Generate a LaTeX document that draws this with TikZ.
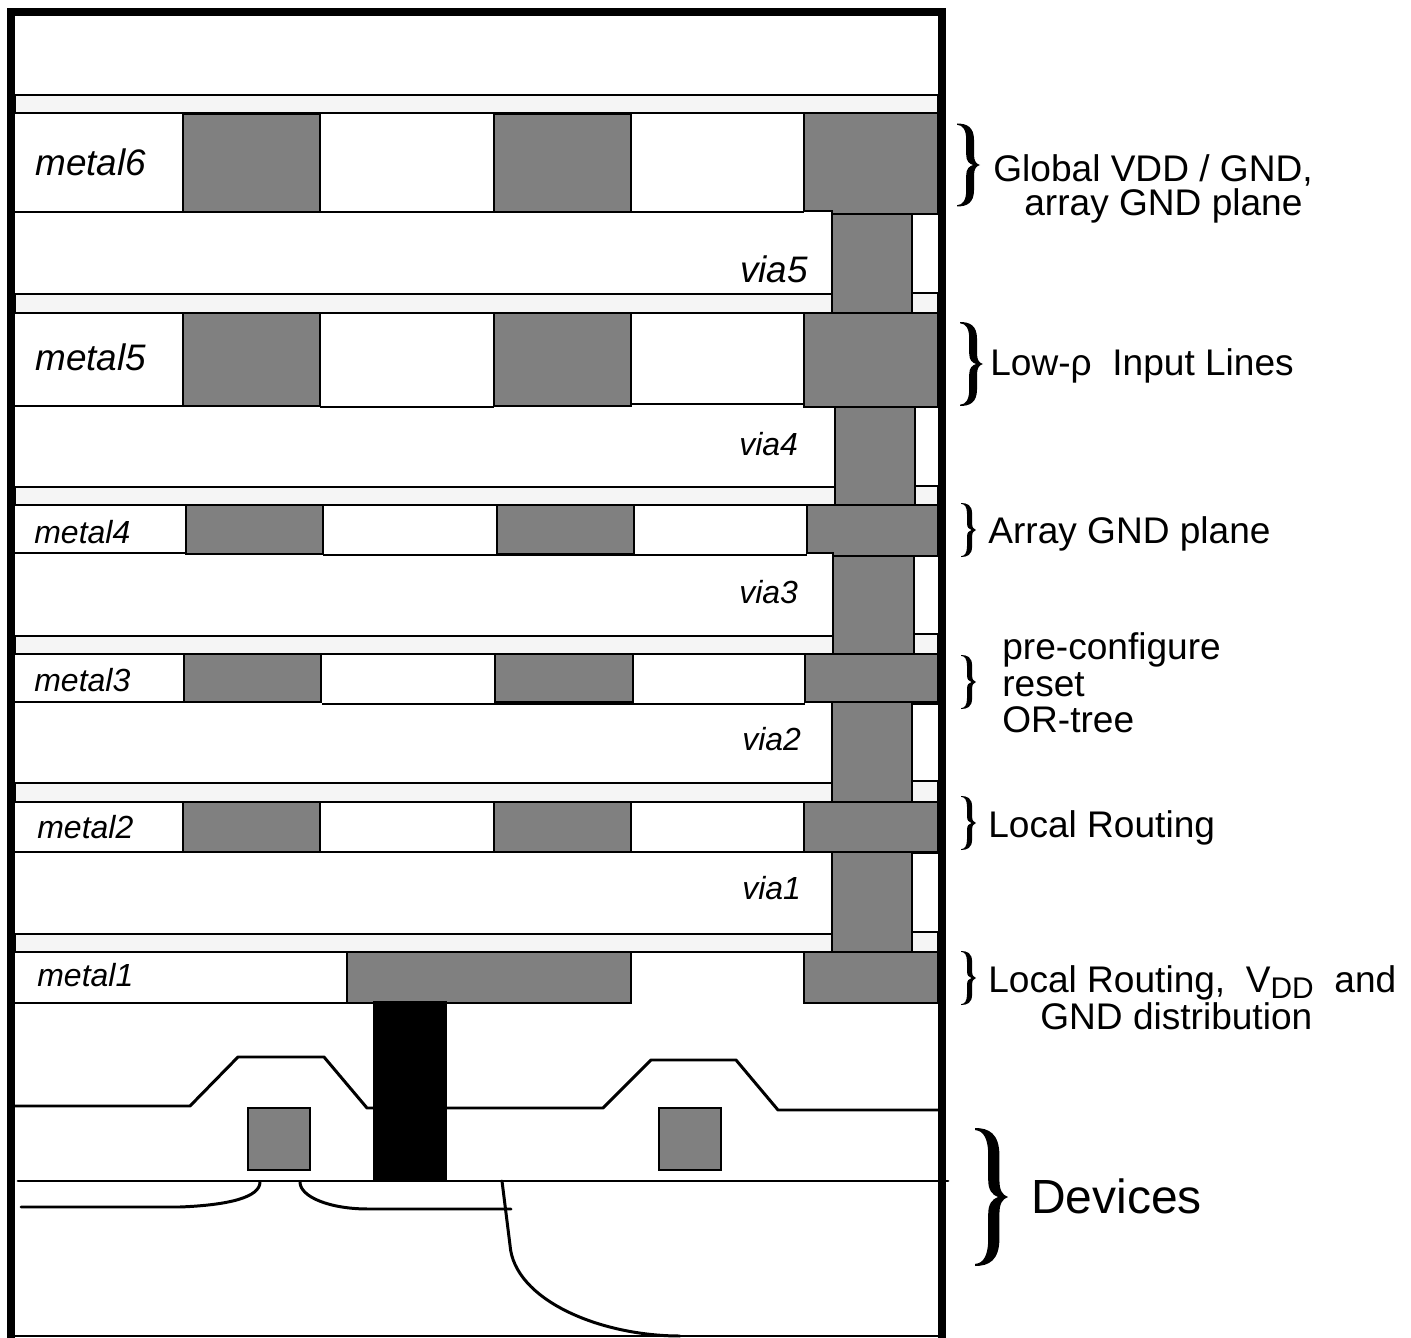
\documentclass[tikz,border=0pt]{standalone}
\usepackage{fontspec}
\setmainfont{Liberation Sans}
\definecolor{metalGray}{RGB}{128, 128, 128}
\definecolor{bandGray}{RGB}{245, 245, 245}
\tikzset{
  wire/.style={line width=1.7pt, line cap=round, line join=round},
  metalbar/.style={draw, line width=1.1pt, fill=metalGray},
  capband/.style={draw, line width=1.1pt, fill=bandGray},
  cellline/.style={line width=1.1pt},
  bigmetal/.style={font=\fontsize{21}{21}\selectfont\itshape, anchor=base west, inner sep=0pt},
  smallmetal/.style={font=\fontsize{18.2}{18.2}\selectfont\itshape, anchor=base west, inner sep=0pt},
  sidelabel/.style={font=\fontsize{21.1}{21.1}\selectfont, anchor=base west, inner sep=0pt},
  curly/.pic={
    \fill (0,-1) .. controls (.42,-1) and (.74,-.92) .. (.74,-.6) -- (.74,-.25)
      .. controls (.74,-.1) and (.82,-.03) .. (1,0)
      .. controls (.82,.03) and (.74,.1) .. (.74,.25) -- (.74,.6)
      .. controls (.74,.92) and (.42,1) .. (0,1) -- (0,.97)
      .. controls (.26,.96) and (.40,.85) .. (.40,.6) -- (.40,.25)
      .. controls (.40,.1) and (.52,.03) .. (.70,0)
      .. controls (.52,-.03) and (.40,-.1) .. (.40,-.25) -- (.40,-.6)
      .. controls (.40,-.85) and (.26,-.96) .. (0,-.97) -- cycle;
  }
}

\begin{document}
\begin{tikzpicture}[x=0.02cm, y=-0.02cm]
        \useasboundingbox (0,0) rectangle (1411,1338);

        % Capping bands
        \draw[capband] (15,95) rectangle (938,113);
        \draw[capband] (15,294) rectangle (833,313);
        \draw[capband] (912,293) rectangle (938,313);
        \draw[capband] (15,487) rectangle (837,505);
        \draw[capband] (915,486) rectangle (938,505);
        \draw[capband] (15,636) rectangle (835,654);
        \draw[capband] (914,634) rectangle (938,654);
        \draw[capband] (15,783) rectangle (833,802);
        \draw[capband] (912,781) rectangle (938,802);
        \draw[capband] (15,934) rectangle (833,952);
        \draw[capband] (912,932) rectangle (938,952);

        % Metal layer outlines
        \draw[cellline] (15,113) -- (804,113) (15,212) -- (804,212);
        \draw[cellline] (15,406) -- (320,406) (320,407) -- (494,407) (631,404) -- (804,404);
        \draw[cellline] (15,553) -- (323,553) (323,555) -- (807,555);
        \draw[cellline] (15,702) -- (322,702) (322,704) -- (805,704);
        \draw[cellline] (15,852) -- (804,852);
        \draw[cellline] (15,1003) -- (347,1003);

        % Metal 6 to metal 2
        \foreach \xa/\xb in {183/320, 494/631} {
          \draw[metalbar] (\xa,114) rectangle (\xb,212);
          \draw[metalbar] (\xa,313) rectangle (\xb,406);
          \draw[metalbar] (\xa,802) rectangle (\xb,852);
        }
        \draw[metalbar] (804,113) -- (938,113) -- (938,214) -- (832,214) -- (832,211) -- (804,211) -- cycle;
        \draw[metalbar] (804,313) rectangle (938,407);
        \draw[metalbar] (804,802) rectangle (938,852);
        \foreach \xa/\xb in {186/323, 497/634}
          \draw[metalbar] (\xa,505) rectangle (\xb,554);
        \draw[metalbar] (807,505) -- (938,505) -- (938,556) -- (833,556) -- (833,553) -- (807,553) -- cycle;
        \foreach \xa/\xb in {184/321, 495/633, 805/938}
          \draw[metalbar] (\xa,654) rectangle (\xb,702);

        % Metal 1
        \draw[metalbar] (347,952) rectangle (631,1003);
        \draw[metalbar] (804,952) rectangle (938,1003);

        % Vias
        \draw[metalbar] (832,214) rectangle (912,313);
        \draw[metalbar] (835,407) rectangle (915,505);
        \draw[metalbar] (833,556) rectangle (914,654);
        \draw[metalbar] (832,702) rectangle (912,802);
        \draw[metalbar] (832,852) rectangle (912,952);

        % Right of the vias
        \draw[cellline] (912,704) -- (938,704) (912,853) -- (938,853);

        % Devices
        \draw[wire] (15,1106) -- (190,1106) -- (238,1057) -- (324,1057) -- (367,1108) -- (373,1108);
        \draw[wire] (447,1108) -- (603,1108) -- (651,1060) -- (736,1060) -- (778,1110) -- (938,1110);
        \draw[metalbar, line width=1.7pt] (248,1108) rectangle (310,1170);
        \draw[metalbar, line width=1.7pt] (659,1108) rectangle (721,1170);
        \draw[wire] (18,1181) -- (948,1181);
        \fill (373,1001) rectangle (447,1181);
        \draw[wire] (21,1207) -- (180,1207) .. controls (230,1205) and (260,1197) .. (260,1182);
        \draw[wire] (300,1182) .. controls (300,1197) and (330,1209) .. (368,1209) -- (511,1209);
        \draw[wire] (502,1181) -- (510,1245) .. controls (514,1300) and (600,1336) .. (680,1336);

        % Frame
        \draw[line width=1.1pt] (15,1336) -- (938,1336);
        \draw[line width=0.16cm] (11,1338) -- (11,12) -- (942,12) -- (942,1338);

        % Layer names
        \node[bigmetal] (m6) at (35,176) {metal6};
        \node[bigmetal] (m5) at (35,371) {metal5};
        \node[bigmetal] (v5) at (740,283) {via5};
        \node[smallmetal] (v4) at (739,456) {via4};
        \node[smallmetal] (m4) at (34,543) {metal4};
        \node[smallmetal] (v3) at (739,603) {via3};
        \node[smallmetal] (m3) at (34,691) {metal3};
        \node[smallmetal] (v2) at (742,750) {via2};
        \node[smallmetal] (m2) at (37,838) {metal2};
        \node[smallmetal] (v1) at (742,899) {via1};
        \node[smallmetal] (m1) at (37,986) {metal1};

        % Braces
        \pic[xscale=23, yscale=41.5] at (957,165) {curly};
        \pic[xscale=23, yscale=42] at (960,364) {curly};
        \pic[xscale=15, yscale=27] at (961,530) {curly};
        \pic[xscale=15, yscale=27] at (961,682) {curly};
        \pic[xscale=15, yscale=27] at (961,823) {curly};
        \pic[xscale=15, yscale=27] at (961,978) {curly};
        \pic[xscale=33, yscale=69] at (975,1197) {curly};

        % Side labels
        \node[sidelabel] (gvdd) at (993,182) {Global VDD / GND,};
        \node[sidelabel] (agnd) at (1024,216) {array GND plane};
        \node[sidelabel] (lowr) at (990,376) {Low-ρ\ \ Input Lines};
        \node[sidelabel] (apln) at (988,543) {Array GND plane};
        \node[sidelabel] (prec) at (1002,659) {pre-configure};
        \node[sidelabel] (rset) at (1002,696) {reset};
        \node[sidelabel] (ortr) at (1002,732) {OR-tree};
        \node[sidelabel] (lrt2) at (988,837) {Local Routing};
        \node[sidelabel] (lrt1) at (988,992) {Local Routing,\ \ V\raisebox{-3.6pt}{\fontsize{17}{17}\selectfont DD}\ \ and};
        \node[sidelabel] (gdis) at (1040,1029) {GND distribution};
        \node[sidelabel, font=\fontsize{27.3}{27.3}\selectfont] (devs) at (1031,1213) {Devices};
\end{tikzpicture}
\end{document}
